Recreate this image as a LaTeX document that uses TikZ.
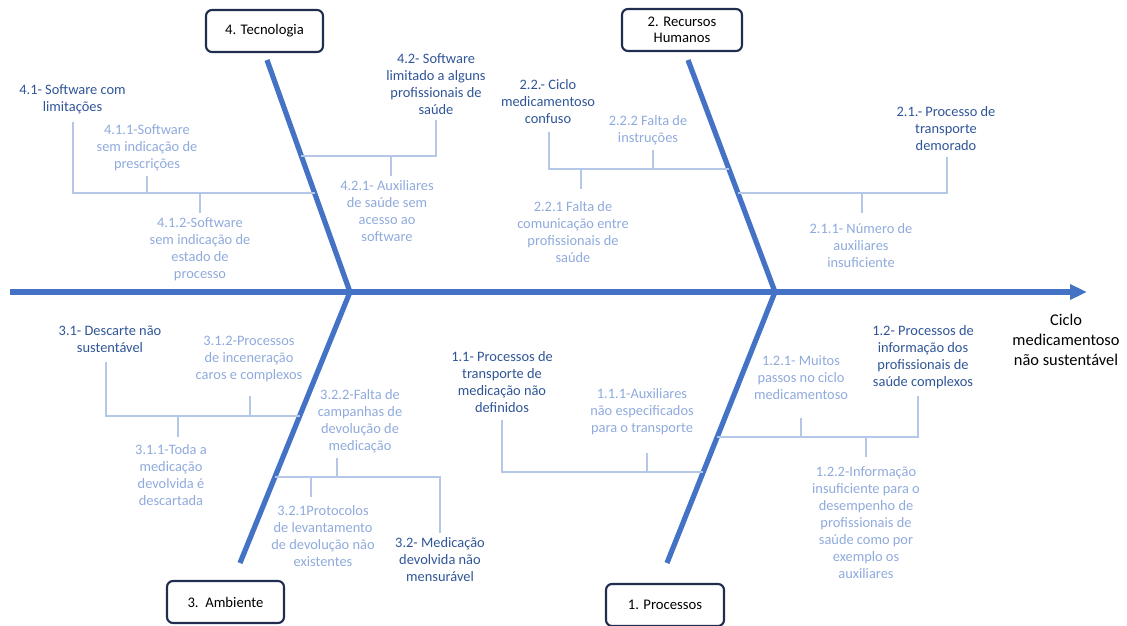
\documentclass[tikz,border=0pt]{standalone}
\usepackage{fontspec}
\setmainfont{Carlito}
\usetikzlibrary{arrows.meta}
\definecolor{bonec}{HTML}{4472C4}
\definecolor{darkc}{HTML}{2F5597}
\definecolor{lightc}{HTML}{8FAADC}
\definecolor{subc}{HTML}{B4C7E7}
\definecolor{navyc}{HTML}{1F2D4E}
\begin{document}
\begin{tikzpicture}[x=0.75pt,y=-0.75pt,
 catbox/.style={draw=navyc,line width=1.6pt,rounded corners=4.5pt,minimum width=87.75pt,minimum height=31.5pt,align=center,font=\fontsize{11}{12}\selectfont,text=black,fill=white},
 lvlone/.style={align=center,inner sep=0pt,text=darkc,font=\fontsize{10.8}{12.75}\selectfont},
 lvltwo/.style={lvlone,text=lightc},
 boneline/.style={draw=bonec,line width=3.9pt},
 subline/.style={draw=subc,line width=1pt}]
\useasboundingbox (0,0) rectangle (1127,625);

% category boxes
\node[catbox] (tec) at (264.5,31) {4. Tecnologia};
\node[catbox,minimum width=90pt] (rh) at (682,30) {2. Recursos\\Humanos};
\node[catbox] (amb) at (225.5,602) {3.\ \ Ambiente};
\node[catbox,minimum width=88.5pt] (proc) at (665,605) {1. Processos};
\node[align=center,inner sep=0pt,font=\fontsize{12.3}{15}\selectfont] (ciclo) at (1066,340) {Ciclo\\medicamentoso\\não sustentável};

% spine and bones
\coordinate (tail) at (10,292);
\coordinate (head) at (1087,292);
\coordinate (jA) at (350,292);
\coordinate (jB) at (775,292);
\coordinate (tecTop) at (267,60);
\coordinate (rhTop) at (688,60);
\coordinate (ambBot) at (240,563);
\coordinate (procBot) at (667,563);
\draw[boneline,-{Triangle[length=12.75pt,width=11pt]}] (tail) -- (head);
\draw[boneline] (tecTop) -- (jA);
\draw[boneline] (rhTop) -- (jB);
\draw[boneline] (jA) -- (ambBot);
\draw[boneline] (jB) -- (procBot);

% texts - Tecnologia
\node[lvlone] (t41) at (72.5,99) {4.1- Software com\\limitações};
\node[lvltwo] (t411) at (147,148) {4.1.1-Software\\sem indicação de\\prescrições};
\node[lvltwo] (t412) at (200,249.5) {4.1.2-Software\\sem indicação de\\estado de\\processo};
\node[lvlone] (t42) at (436,84) {4.2- Software\\limitado a alguns\\profissionais de\\saúde};
\node[lvltwo] (t421) at (387,211) {4.2.1- Auxiliares\\de saúde sem\\acesso ao\\software};
% Recursos Humanos
\node[lvlone] (t22) at (548,102) {2.2.- Ciclo\\medicamentoso\\confuso};
\node[lvltwo] (t222) at (648,130) {2.2.2 Falta de\\instruções};
\node[lvltwo] (t221) at (573,232) {2.2.1 Falta de\\comunicação entre\\profissionais de\\saúde};
\node[lvlone] (t21) at (946,129) {2.1.- Processo de\\transporte\\demorado};
\node[lvltwo] (t211) at (861,246) {2.1.1- Número de\\auxiliares\\insuficiente};
% Ambiente
\node[lvlone] (t31) at (110,339) {3.1- Descarte não\\sustentável};
\node[lvltwo] (t312) at (249,359) {3.1.2-Processos\\de inceneração\\caros e complexos};
\node[lvltwo] (t311) at (171,475) {3.1.1-Toda a\\medicação\\devolvida é\\descartada};
\node[lvltwo] (t322) at (360,421) {3.2.2-Falta de\\campanhas de\\devolução de\\medicação};
\node[lvltwo] (t321) at (323,536) {3.2.1Protocolos\\de levantamento\\de devolução não\\existentes};
\node[lvlone] (t32) at (440,560) {3.2- Medicação\\devolvida não\\mensurável};
% Processos
\node[lvlone] (t11) at (502,382) {1.1- Processos de\\transporte de\\medicação não\\definidos};
\node[lvltwo] (t111) at (642,412) {1.1.1-Auxiliares\\não especificados\\para o transporte};
\node[lvlone] (t12) at (923,357) {1.2- Processos de\\informação dos\\profissionais de\\saúde complexos};
\node[lvltwo] (t121) at (801,378) {1.2.1- Muitos\\passos no ciclo\\medicamentoso};
\node[lvltwo] (t122) at (866,523) {1.2.2-Informação\\insuficiente para o\\desempenho de\\profissionais de\\saúde como por\\exemplo os\\auxiliares};

% branch coordinates
\coordinate (s41) at (73,122);   \coordinate (b41) at (314.6,193);
\coordinate (s411) at (147,176); \coordinate (s412) at (200,213);
\coordinate (s42) at (436,120);  \coordinate (b42) at (301.3,156);
\coordinate (s421) at (391,176);
\coordinate (s22) at (549,132);  \coordinate (b22) at (728.9,169);
\coordinate (s222) at (653,150); \coordinate (s221) at (581,189);
\coordinate (s21) at (947,157);  \coordinate (b21) at (737.9,193);
\coordinate (s211) at (862,213);
\coordinate (s31) at (106,362);  \coordinate (b31) at (299.7,416);
\coordinate (s312) at (250,396); \coordinate (s311) at (178,437);
\coordinate (s32) at (440,533);  \coordinate (b32) at (274.9,477);
\coordinate (s322) at (337,458); \coordinate (s321) at (311,497);
\coordinate (s11) at (502,420);  \coordinate (b11) at (703.3,472);
\coordinate (s111) at (647,453);
\coordinate (s12) at (918,396);  \coordinate (b12) at (717.2,437);
\coordinate (s121) at (801,418); \coordinate (s122) at (866,457);

% branch lines
\draw[subline] (s41) |- (b41);
\draw[subline] (s411) -- (s411 |- b41);
\draw[subline] (s412) -- (s412 |- b41);
\draw[subline] (s42) |- (b42);
\draw[subline] (s421) -- (s421 |- b42);
\draw[subline] (s22) |- (b22);
\draw[subline] (s222) -- (s222 |- b22);
\draw[subline] (s221) -- (s221 |- b22);
\draw[subline] (s21) |- (b21);
\draw[subline] (s211) -- (s211 |- b21);
\draw[subline] (s31) |- (b31);
\draw[subline] (s312) -- (s312 |- b31);
\draw[subline] (s311) -- (s311 |- b31);
\draw[subline] (s32) |- (b32);
\draw[subline] (s322) -- (s322 |- b32);
\draw[subline] (s321) -- (s321 |- b32);
\draw[subline] (s11) |- (b11);
\draw[subline] (s111) -- (s111 |- b11);
\draw[subline] (s12) |- (b12);
\draw[subline] (s121) -- (s121 |- b12);
\draw[subline] (s122) -- (s122 |- b12);
\end{tikzpicture}
\end{document}
